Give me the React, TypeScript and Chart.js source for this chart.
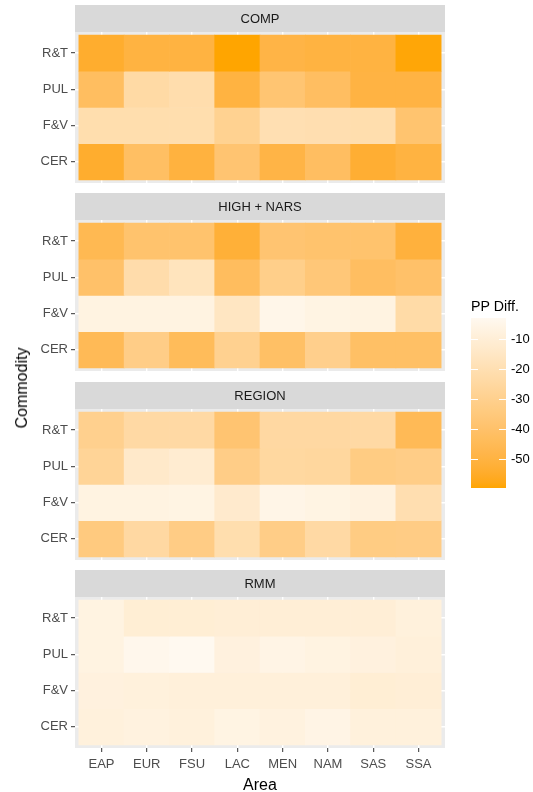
import React, { useEffect, useRef } from 'react';
import { Chart, registerables } from 'chart.js';

Chart.register(...registerables);

const FONT = '"Liberation Sans", Arial, Helvetica, sans-serif';

// ---------- data ----------
const AREAS = ['EAP', 'EUR', 'FSU', 'LAC', 'MEN', 'NAM', 'SAS', 'SSA'];
// bottom -> top
const COMMODITIES = ['CER', 'F&V', 'PUL', 'R&T'];
const PANEL_TITLES = ['COMP', 'HIGH + NARS', 'REGION', 'RMM'];

// rows follow COMMODITIES (CER, F&V, PUL, R&T); columns follow AREAS
const COMP_VALUES = [
  [-54, -41.5, -50.5, -38, -49, -42, -53, -50],
  [-21, -21, -21, -29, -20, -20.5, -21, -38.5],
  [-42.5, -23.5, -21.5, -50, -37.5, -42, -49.5, -49.5],
  [-54, -50, -50, -59.5, -49, -50, -50, -59],
];
const HIGH_NARS_VALUES = [
  [-45, -32, -44, -29.5, -41, -30.5, -41, -41],
  [-7, -7, -7, -15.5, -5, -6.5, -7, -23],
  [-40, -22, -17, -43, -31, -36, -42, -40],
  [-46, -39, -39, -52, -38, -39, -39, -51],
];
const REGION_VALUES = [
  [-34, -24.5, -32.5, -21, -32, -24, -33, -32.5],
  [-7, -7, -6.5, -12.5, -5.5, -6.5, -7.5, -20.5],
  [-27.5, -13.5, -11.5, -32, -25, -25.5, -33, -32],
  [-30, -24, -24, -38, -24.5, -24.5, -24, -45],
];
const RMM_VALUES = [
  [-8.5, -7.5, -8.5, -6.5, -7.5, -6, -8.5, -8.5],
  [-8, -8.5, -9, -9, -9, -9, -10.5, -10],
  [-7, -4, -3, -8, -6, -7, -8, -9],
  [-7, -10.5, -10.5, -10, -10, -10, -10, -8.5],
];
const PANEL_VALUES = [COMP_VALUES, HIGH_NARS_VALUES, REGION_VALUES, RMM_VALUES];

const LEGEND_TITLE = 'PP Diff.';
const LEGEND_TICKS = [-50, -40, -30, -20, -10];
const X_TITLE = 'Area';
const Y_TITLE = 'Commodity';

const LOW_COLOR = '#FFA500';
const HIGH_COLOR = '#FFF9F0';

const ALL_VALUES = PANEL_VALUES.flat(2);
const DATA_MIN = Math.min(...ALL_VALUES);
const DATA_MAX = Math.max(...ALL_VALUES);

// ---------- colour ramp (CIELAB, like ggplot2) ----------
function hexToRgb(hex: string): number[] {
  const n = parseInt(hex.slice(1), 16);
  return [(n >> 16) & 255, (n >> 8) & 255, n & 255];
}
function toLin(c: number) {
  c /= 255;
  return c <= 0.04045 ? c / 12.92 : Math.pow((c + 0.055) / 1.055, 2.4);
}
function fromLin(c: number) {
  const v = c <= 0.0031308 ? 12.92 * c : 1.055 * Math.pow(c, 1 / 2.4) - 0.055;
  return Math.round(Math.min(1, Math.max(0, v)) * 255);
}
const XN = 0.95047, YN = 1, ZN = 1.08883;
const fLab = (t: number) => (t > 0.008856 ? Math.cbrt(t) : 7.787 * t + 16 / 116);
const fInv = (t: number) => {
  const t3 = t * t * t;
  return t3 > 0.008856 ? t3 : (t - 16 / 116) / 7.787;
};
function rgbToLab(rgb: number[]) {
  const R = toLin(rgb[0]), G = toLin(rgb[1]), B = toLin(rgb[2]);
  const X = (0.4124 * R + 0.3576 * G + 0.1805 * B) / XN;
  const Y = (0.2126 * R + 0.7152 * G + 0.0722 * B) / YN;
  const Z = (0.0193 * R + 0.1192 * G + 0.9505 * B) / ZN;
  const fx = fLab(X), fy = fLab(Y), fz = fLab(Z);
  return [116 * fy - 16, 500 * (fx - fy), 200 * (fy - fz)];
}
function labToRgb(lab: number[]) {
  const fy = (lab[0] + 16) / 116;
  const fx = fy + lab[1] / 500;
  const fz = fy - lab[2] / 200;
  const X = fInv(fx) * XN, Y = fInv(fy) * YN, Z = fInv(fz) * ZN;
  const R = 3.2406 * X - 1.5372 * Y - 0.4986 * Z;
  const G = -0.9689 * X + 1.8758 * Y + 0.0415 * Z;
  const B = 0.0557 * X - 0.204 * Y + 1.057 * Z;
  return [fromLin(R), fromLin(G), fromLin(B)];
}
const LOW_LAB = rgbToLab(hexToRgb(LOW_COLOR));
const HIGH_LAB = rgbToLab(hexToRgb(HIGH_COLOR));
function colorFor(v: number) {
  const t = Math.min(1, Math.max(0, (v - DATA_MIN) / (DATA_MAX - DATA_MIN)));
  const lab = LOW_LAB.map((l, i) => l + (HIGH_LAB[i] - l) * t);
  const rgb = labToRgb(lab);
  return `rgb(${rgb[0]},${rgb[1]},${rgb[2]})`;
}

// ---------- layout ----------
const PANEL_TOPS = [5, 193, 382, 570];
const STRIP_H = 27;
const PANEL_H = 151;
const AXIS_W = 75;
const CANVAS_W = 450;
const X_AXIS_H = 47;
const EXPAND = 0.085;
const TICK_FONT = 13;
const TITLE_FONT = 16;

const stripPlugin = {
  id: 'facetStrip',
  beforeDraw(chart: any, _args: any, opts: any) {
    const { ctx, chartArea } = chart;
    const { left, right, top, bottom } = chartArea;
    ctx.save();
    ctx.fillStyle = '#EBEBEB';
    ctx.fillRect(left, top, right - left, bottom - top);
    ctx.fillStyle = '#D9D9D9';
    ctx.fillRect(left, top - STRIP_H, right - left, STRIP_H);
    ctx.fillStyle = '#1A1A1A';
    ctx.font = `${TICK_FONT}px ${FONT}`;
    ctx.textAlign = 'center';
    ctx.textBaseline = 'middle';
    ctx.fillText(opts.text, (left + right) / 2, top - STRIP_H / 2 + 0.5);
    ctx.restore();
  },
};

const legendTickPlugin = {
  id: 'legendTicks',
  afterDatasetsDraw(chart: any) {
    const { ctx, chartArea } = chart;
    const y = chart.scales.y;
    const w = chartArea.right - chartArea.left;
    ctx.save();
    ctx.strokeStyle = '#FFFFFF';
    ctx.lineWidth = 1;
    LEGEND_TICKS.forEach((v) => {
      const py = Math.round(y.getPixelForValue(v)) + 0.5;
      ctx.beginPath();
      ctx.moveTo(chartArea.left, py);
      ctx.lineTo(chartArea.left + w / 5, py);
      ctx.moveTo(chartArea.right - w / 5, py);
      ctx.lineTo(chartArea.right, py);
      ctx.stroke();
    });
    ctx.restore();
  },
};

function makePanel(canvas: HTMLCanvasElement, idx: number) {
  const isLast = idx === PANEL_VALUES.length - 1;
  const values = PANEL_VALUES[idx];
  const points: any[] = [];
  const colors: string[] = [];
  values.forEach((row, r) => {
    row.forEach((v, c) => {
      points.push({ x: c, y: [r - 0.5, r + 0.5] });
      colors.push(colorFor(v));
    });
  });
  return new Chart(canvas, {
    type: 'bar',
    data: {
      datasets: [
        {
          data: points,
          backgroundColor: colors,
          borderWidth: 0,
          barPercentage: 1,
          categoryPercentage: 1,
        } as any,
      ],
    },
    plugins: [stripPlugin],
    options: {
      responsive: false,
      animation: false,
      devicePixelRatio: 1,
      events: [],
      layout: { padding: { top: STRIP_H, right: CANVAS_W - 445, left: 0, bottom: 0 } },
      plugins: {
        legend: { display: false },
        tooltip: { enabled: false },
        facetStrip: { text: PANEL_TITLES[idx] },
      } as any,
      scales: {
        x: {
          type: 'linear',
          offset: false,
          min: -0.5 - EXPAND,
          max: AREAS.length - 0.5 + EXPAND,
          afterBuildTicks: (s: any) => {
            s.ticks = AREAS.map((_, i) => ({ value: i }));
          },
          afterFit: (s: any) => {
            s.height = isLast ? X_AXIS_H : 0;
            s.paddingLeft = 0;
            s.paddingRight = 0;
          },
          border: { display: false },
          grid: {
            offset: false,
            color: '#FFFFFF',
            lineWidth: 1.4,
            drawTicks: isLast,
            tickLength: 4,
            tickColor: '#333333',
            tickWidth: 1,
          },
          ticks: {
            display: isLast,
            autoSkip: false,
            maxRotation: 0,
            padding: 5,
            color: '#4D4D4D',
            font: { family: FONT, size: TICK_FONT },
            callback: (v: any) => AREAS[v as number] ?? '',
          },
          title: {
            display: isLast,
            text: X_TITLE,
            color: '#000000',
            font: { family: FONT, size: TITLE_FONT },
            padding: { top: 0, bottom: 0 },
          },
        },
        y: {
          type: 'linear',
          offset: false,
          min: -0.5 - EXPAND,
          max: COMMODITIES.length - 0.5 + EXPAND,
          afterBuildTicks: (s: any) => {
            s.ticks = COMMODITIES.map((_, i) => ({ value: i }));
          },
          afterFit: (s: any) => {
            s.width = AXIS_W;
            s.paddingTop = 0;
            s.paddingBottom = 0;
          },
          border: { display: false },
          grid: {
            offset: false,
            color: '#FFFFFF',
            lineWidth: 1.4,
            drawTicks: true,
            tickLength: 4,
            tickColor: '#333333',
            tickWidth: 1,
          },
          ticks: {
            padding: 3,
            color: '#4D4D4D',
            font: { family: FONT, size: TICK_FONT },
            callback: (v: any) => COMMODITIES[v as number] ?? '',
          },
        },
      },
    } as any,
  });
}

function makeLegend(canvas: HTMLCanvasElement) {
  return new Chart(canvas, {
    type: 'bar',
    data: {
      labels: [''],
      datasets: [
        {
          data: [[DATA_MIN, DATA_MAX]],
          borderWidth: 0,
          barPercentage: 1,
          categoryPercentage: 1,
          backgroundColor: (c: any) => {
            const chart = c.chart;
            if (!chart.chartArea) return LOW_COLOR;
            const y = chart.scales.y;
            const g = chart.ctx.createLinearGradient(
              0,
              y.getPixelForValue(DATA_MIN),
              0,
              y.getPixelForValue(DATA_MAX)
            );
            const n = 30;
            for (let i = 0; i <= n; i++) {
              const t = i / n;
              g.addColorStop(t, colorFor(DATA_MIN + t * (DATA_MAX - DATA_MIN)));
            }
            return g;
          },
        } as any,
      ],
    },
    plugins: [legendTickPlugin],
    options: {
      responsive: false,
      animation: false,
      devicePixelRatio: 1,
      events: [],
      layout: { padding: { left: 5, top: 0, right: 0, bottom: 0 } },
      plugins: {
        legend: { display: false },
        tooltip: { enabled: false },
        title: {
          display: true,
          text: LEGEND_TITLE,
          align: 'start',
          color: '#000000',
          font: { family: FONT, size: 14.2, weight: 'normal', lineHeight: 1.2 },
          padding: { top: 3, bottom: 2 },
        },
      },
      scales: {
        x: { display: false },
        y: {
          position: 'right',
          min: DATA_MIN,
          max: DATA_MAX,
          afterBuildTicks: (s: any) => {
            s.ticks = LEGEND_TICKS.map((v) => ({ value: v }));
          },
          afterFit: (s: any) => {
            s.width = 27;
            s.paddingTop = 0;
            s.paddingBottom = 0;
          },
          border: { display: false },
          grid: { display: false, drawTicks: false },
          ticks: {
            padding: 5,
            color: '#000000',
            font: { family: FONT, size: TICK_FONT },
            callback: (v: any) => String(v),
          },
        },
      },
    } as any,
  });
}

export default function App() {
  const panelRefs = useRef<(HTMLCanvasElement | null)[]>([]);
  const legendRef = useRef<HTMLCanvasElement | null>(null);

  useEffect(() => {
    const charts: Chart[] = [];
    panelRefs.current.forEach((cv, i) => {
      if (cv) charts.push(makePanel(cv, i));
    });
    if (legendRef.current) charts.push(makeLegend(legendRef.current));
    return () => charts.forEach((c) => c.destroy());
  }, []);

  return (
    <div
      style={{
        position: 'absolute',
        left: 0,
        top: 0,
        width: 533,
        height: 792,
        background: '#FFFFFF',
        fontFamily: FONT,
        overflow: 'hidden',
      }}
    >
      {PANEL_TITLES.map((t, i) => {
        const h = STRIP_H + PANEL_H + (i === PANEL_TITLES.length - 1 ? X_AXIS_H : 0);
        return (
          <canvas
            key={t}
            ref={(el) => {
              panelRefs.current[i] = el;
            }}
            width={CANVAS_W}
            height={h}
            style={{ position: 'absolute', left: 0, top: PANEL_TOPS[i], width: CANVAS_W, height: h }}
          />
        );
      })}
      <canvas
        ref={legendRef}
        width={67}
        height={192}
        style={{ position: 'absolute', left: 466, top: 296, width: 67, height: 192 }}
      />
      <div
        style={{
          position: 'absolute',
          left: 22,
          top: 388,
          transform: 'translate(-50%, -50%) rotate(-90deg)',
          fontSize: TITLE_FONT,
          lineHeight: 1,
          color: '#000000',
          whiteSpace: 'nowrap',
        }}
      >
        {Y_TITLE}
      </div>
    </div>
  );
}
